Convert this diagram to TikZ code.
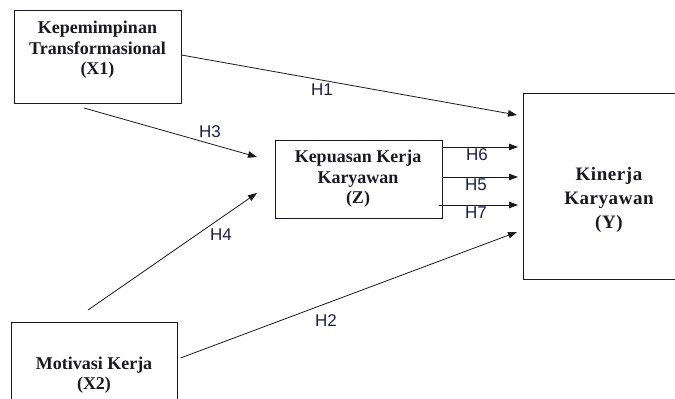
\documentclass[tikz,border=0pt]{standalone}
\usepackage{fontspec}
\setmainfont{Liberation Serif}
\newfontfamily\hypFont{Liberation Sans}
\newfontfamily\wideFont[LetterSpace=3]{Liberation Serif}
\usepackage{tikz}
\usetikzlibrary{arrows.meta}
\definecolor{boxInk}{RGB}{25,25,35}
\definecolor{hypInk}{RGB}{30,30,75}

\begin{document}
\begin{tikzpicture}[
  x=1pt, y=-1pt,
  variable box/.style={draw=boxInk, line width=0.9pt, inner sep=0pt},
  variable text/.style={align=center, text=boxInk, font=\fontsize{18}{20.5}\selectfont\bfseries},
  hyp label/.style={text=hypInk, font=\hypFont\fontsize{17}{19}\selectfont, inner sep=0pt},
  path link/.style={draw=boxInk, line width=0.8pt, -{Triangle[length=9pt,width=6.5pt]}}
]
\clip (0,0) rectangle (675,399);
% boxes
\node[variable box, minimum width=167pt, minimum height=93pt] (X1) at (97.5,56.5) {};
\node[variable box, minimum width=167pt, minimum height=78pt] (Z) at (358.5,179) {};
\node[variable box, minimum width=152pt, minimum height=186pt] (Y) at (599,186) {};
\node[variable box, minimum width=166pt, minimum height=108pt] (X2) at (94,376) {};
% box texts
\node[variable text] (X1text) at (97.5,50) {Kepemimpinan\\Transformasional\\(X1)};
\node[variable text] (Ztext) at (358,179) {Kepuasan Kerja\\Karyawan\\(Z)};
\node[variable text, font=\wideFont\fontsize{19}{24}\selectfont\bfseries] (Ytext) at (609,200) {Kinerja\\Karyawan\\(Y)};
\node[variable text] (X2text) at (94,375) {Motivasi Kerja\\(X2)};
% free ends of the links
\coordinate (h1end) at (517,115);
\coordinate (h3start) at (84,108);
\coordinate (h3end) at (257,157);
\coordinate (h4start) at (88,310);
\coordinate (h4end) at (257,193);
\coordinate (h2end) at (517,232);
\coordinate (h6end) at (518,147);
\coordinate (h5end) at (518,177);
\coordinate (h7end) at (518,205);
% links
\draw[path link] ([yshift=1.5pt]X1.east) -- (h1end);
\draw[path link] (h3start) -- (h3end);
\draw[path link] (h4start) -- (h4end);
\draw[path link] ([xshift=3pt,yshift=18pt]X2.east) -- (h2end);
\draw[path link] ([yshift=32pt]Z.east) -- (h6end);
\draw[path link] ([yshift=2pt]Z.east) -- (h5end);
\draw[path link] ([xshift=-3pt,yshift=-26pt]Z.east) -- (h7end);
% labels
\node[hyp label] (H1) at (322,90) {H1};
\node[hyp label] (H3) at (210,132) {H3};
\node[hyp label] (H4) at (221,235) {H4};
\node[hyp label] (H2) at (326,321) {H2};
\node[hyp label] (H6) at (477,155) {H6};
\node[hyp label] (H5) at (476,185) {H5};
\node[hyp label] (H7) at (476,213) {H7};
\end{tikzpicture}
\end{document}
